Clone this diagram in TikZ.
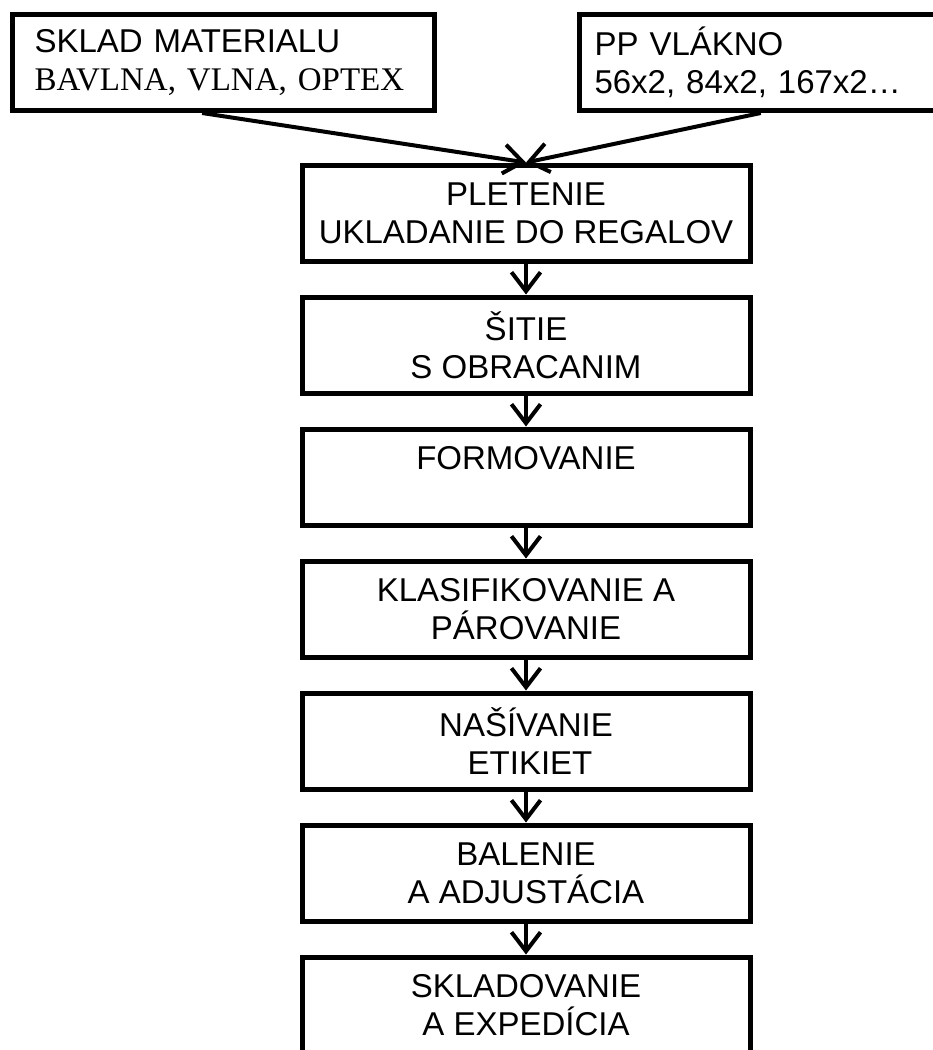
\documentclass[tikz,border=0pt]{standalone}
\usepackage{fontspec}
\setmainfont{Liberation Sans}
\newfontfamily\tnr{Liberation Serif}
\usetikzlibrary{arrows.meta,calc}
\begin{document}
\begin{tikzpicture}[x=1pt,y=-1pt,
  stepbox/.style={draw,line width=5pt,minimum width=448pt,minimum height=96pt,inner sep=0pt,align=center,font=\fontsize{33}{38}\selectfont},
  srcbox/.style={draw,line width=5pt,minimum height=96pt,inner xsep=22pt,inner ysep=0pt,align=left,anchor=north west,font=\fontsize{33}{38}\selectfont},
  flow/.style={line width=4pt,-{Straight Barb[length=19pt,width=29pt]}}]
\useasboundingbox (0,0) rectangle (933,1050);
\clip (0,0) rectangle (933,1050);
\node[srcbox,text width=378pt] (sklad) at (10,12) {SKLAD MATERIALU\\{\tnr BAVLNA, VLNA, OPTEX}};
\node[srcbox,text width=340pt,inner xsep=15pt] (pp) at (577,12) {PP VLÁKNO\\56x2, 84x2, 167x2…};
\node[stepbox] (s1) at (526,213) {PLETENIE\\UKLADANIE DO REGALOV};
\node[stepbox] (s2) at (526,345) {ŠITIE\\S OBRACANIM};
\node[stepbox] (s3) at (526,477) {FORMOVANIE\\\mbox{}};
\node[stepbox] (s4) at (526,609) {KLASIFIKOVANIE A\\PÁROVANIE};
\node[stepbox] (s5) at (526,741) {NAŠÍVANIE\\\hspace*{8pt}ETIKIET};
\node[stepbox] (s6) at (526,873) {BALENIE\\A ADJUSTÁCIA};
\node[stepbox] (s7) at (526,1005) {SKLADOVANIE\\A EXPEDÍCIA};
\coordinate (a1) at ($(sklad.south west)!0.45!(sklad.south east)$);
\coordinate (a2) at ($(pp.south west)!0.49!(pp.south east)$);
\draw[flow] (a1) -- (s1.north);
\draw[flow] (a2) -- (s1.north);
\draw[flow] (s1.south) -- (s2.north);
\draw[flow] (s2.south) -- (s3.north);
\draw[flow] (s3.south) -- (s4.north);
\draw[flow] (s4.south) -- (s5.north);
\draw[flow] (s5.south) -- (s6.north);
\draw[flow] (s6.south) -- (s7.north);
\end{tikzpicture}
\end{document}
